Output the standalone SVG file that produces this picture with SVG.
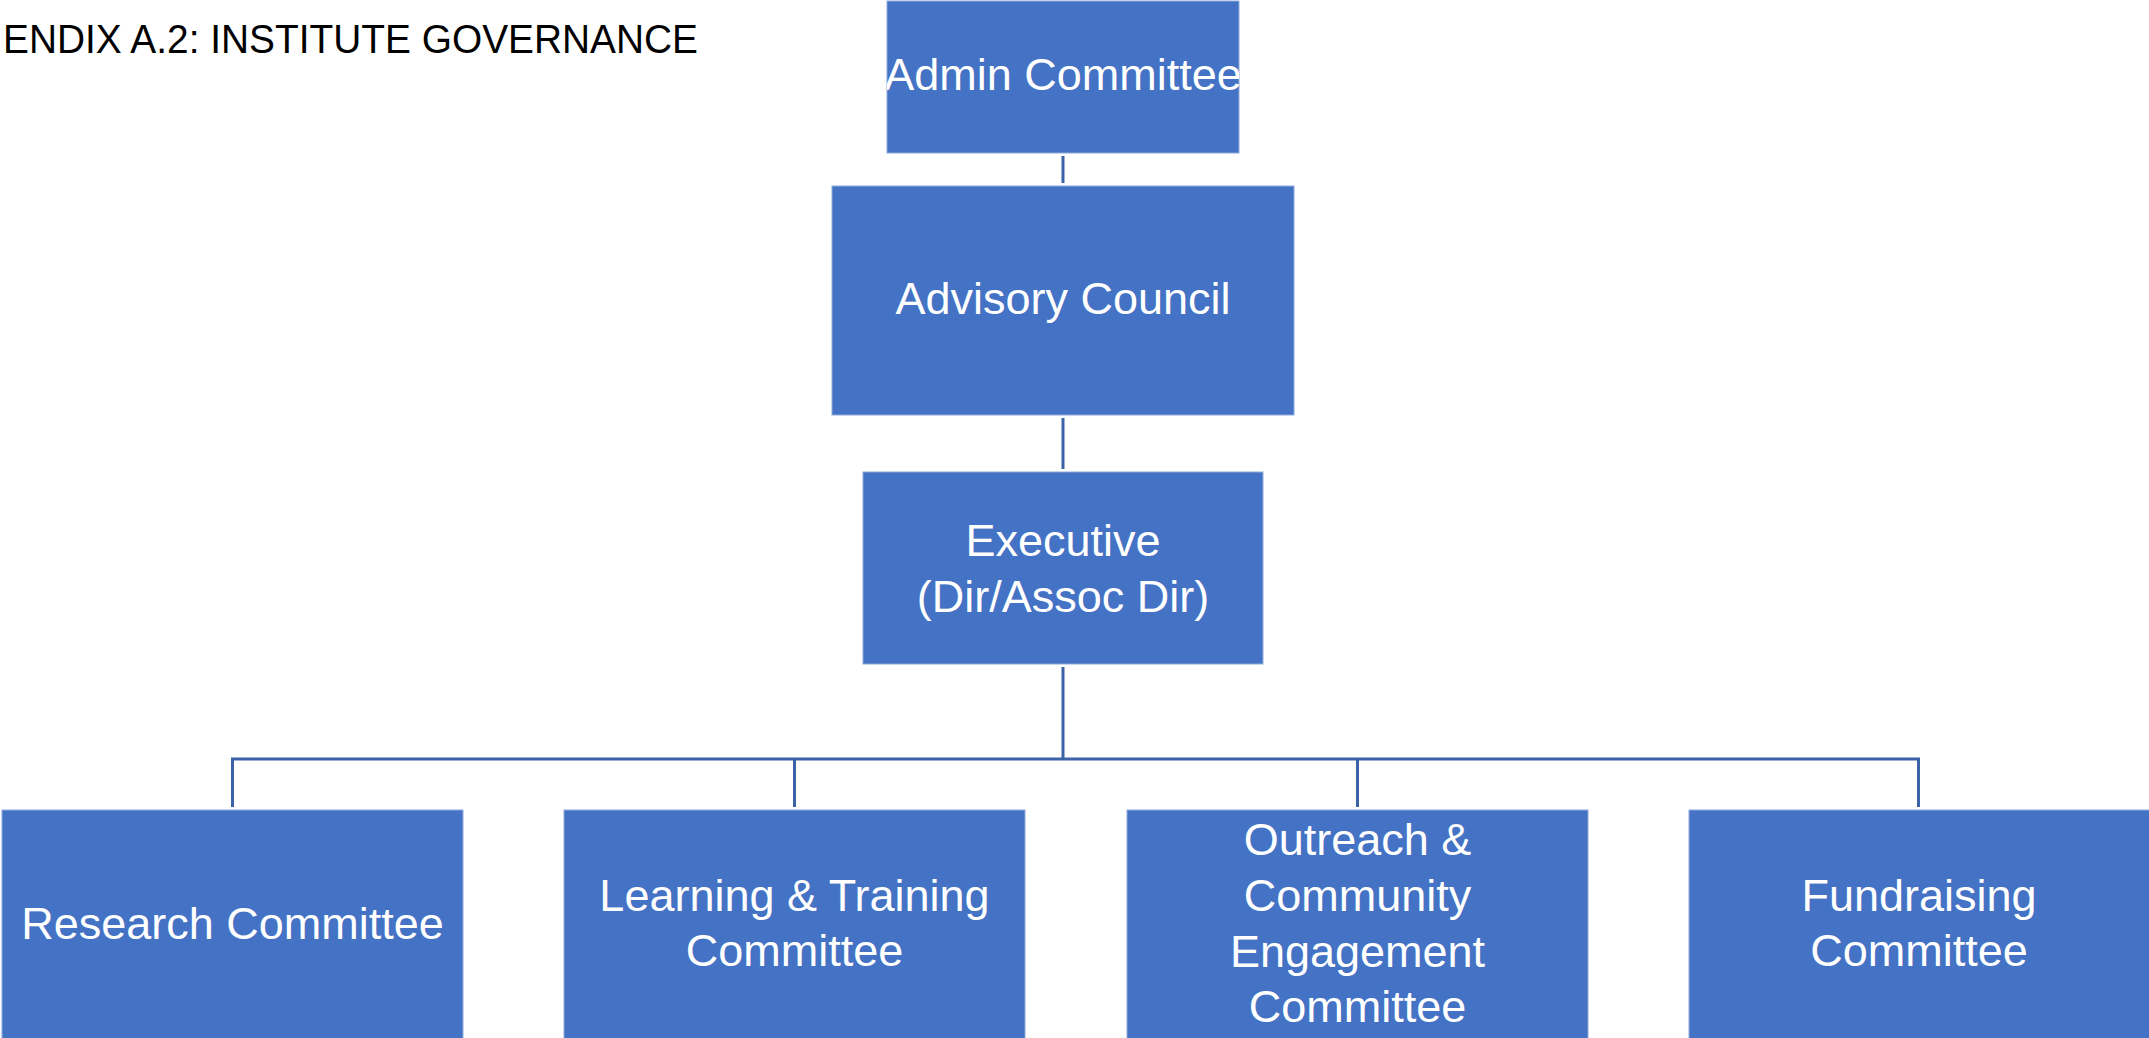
<svg xmlns="http://www.w3.org/2000/svg" width="2149" height="1038" viewBox="0 0 2149 1038">
<style>
.box{fill:#4472C4;stroke:#8FAADC;stroke-width:1}
.lbl{font-family:"Liberation Sans",Arial,sans-serif;font-size:45px;fill:#FFFFFF;text-anchor:middle}
.title{font-family:"Liberation Sans",Arial,sans-serif;font-size:41px;fill:#000000}
.conn{stroke:#3C62A8;stroke-width:3;fill:none}
</style>
<defs>
<clipPath id="clipAdmin"><rect x="887" y="1" width="352" height="152"/></clipPath>
</defs>
<rect width="2149" height="1038" fill="#FFFFFF"/>
<text class="title" x="3" y="53" textLength="695" lengthAdjust="spacingAndGlyphs">ENDIX A.2: INSTITUTE GOVERNANCE</text>
<g id="connectors">
<line class="conn" x1="1063" y1="156" x2="1063" y2="183"/>
<line class="conn" x1="1063" y1="418" x2="1063" y2="469"/>
<line class="conn" x1="1063" y1="667" x2="1063" y2="759"/>
<polyline class="conn" points="232.5,807 232.5,759 1918.5,759 1918.5,807"/>
<line class="conn" x1="794.5" y1="759" x2="794.5" y2="807"/>
<line class="conn" x1="1357.5" y1="759" x2="1357.5" y2="807"/>
</g>
<g id="admin">
<rect class="box" x="887" y="1" width="352" height="152"/>
<text class="lbl" x="1063" y="90" clip-path="url(#clipAdmin)">Admin Committee</text>
</g>
<g id="advisory">
<rect class="box" x="832" y="186" width="462" height="229"/>
<text class="lbl" x="1063" y="314">Advisory Council</text>
</g>
<g id="executive">
<rect class="box" x="863" y="472" width="400" height="192"/>
<text class="lbl" x="1063" y="556">Executive</text>
<text class="lbl" x="1063" y="612">(Dir/Assoc Dir)</text>
</g>
<g id="research">
<rect class="box" x="2" y="810" width="461" height="240"/>
<text class="lbl" x="232.5" y="939">Research Committee</text>
</g>
<g id="learning">
<rect class="box" x="564" y="810" width="461" height="240"/>
<text class="lbl" x="794.5" y="911">Learning &amp; Training</text>
<text class="lbl" x="794.5" y="966">Committee</text>
</g>
<g id="outreach">
<rect class="box" x="1127" y="810" width="461" height="240"/>
<text class="lbl" x="1357.5" y="855">Outreach &amp;</text>
<text class="lbl" x="1357.5" y="911">Community</text>
<text class="lbl" x="1357.5" y="967">Engagement</text>
<text class="lbl" x="1357.5" y="1022">Committee</text>
</g>
<g id="fundraising">
<rect class="box" x="1689" y="810" width="461" height="240"/>
<text class="lbl" x="1919" y="911">Fundraising</text>
<text class="lbl" x="1919" y="966">Committee</text>
</g>
</svg>
